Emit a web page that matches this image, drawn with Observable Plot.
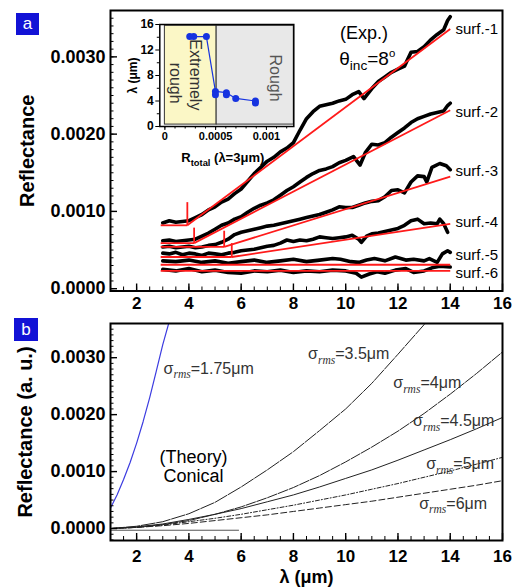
<!DOCTYPE html>
<html><head><meta charset="utf-8">
<script src="https://cdn.jsdelivr.net/npm/d3@7"></script>
<script src="https://cdn.jsdelivr.net/npm/@observablehq/plot@0.6"></script>
<style>
body{margin:0;background:#fff;}
#fig{position:relative;width:515px;height:587px;overflow:hidden;background:#fff;font-family:"Liberation Sans",Arial,sans-serif;}
#fig svg{position:absolute;overflow:visible;}
.tag{position:absolute;background:#1212d6;color:#fff;font-size:17px;text-align:center;}
</style></head><body><div id="fig"></div>
<script>
// ---------- Panel a: experimental reflectance (λ in µm, reflectance) ----------
const surf1 = [[3.0,.00085],[3.25,.00088],[3.5,.00086],[3.75,.00087],[4.0,.00088],[4.25,.00092],[4.5,.00096],[4.75,.00102],[5.0,.00106],[5.25,.00112],[5.5,.00116],[5.75,.00123],[6.0,.00129],[6.25,.00139],[6.5,.00149],[6.75,.00157],[7.0,.00165],[7.25,.00170],[7.5,.00177],[7.75,.00182],[8.0,.00189],[8.25,.00205],[8.5,.00220],[8.75,.00229],[9.0,.00236],[9.25,.00238],[9.5,.00240],[9.75,.00243],[10.0,.00245],[10.25,.00251],[10.5,.00255],[10.7,.00246],[11.0,.00259],[11.25,.00268],[11.5,.00274],[11.75,.00280],[12.0,.00284],[12.25,.00288],[12.5,.00306],[12.75,.00307],[13.0,.00313],[13.25,.00322],[13.5,.00329],[13.75,.00335],[13.9,.00347],[14.0,.00352]];
const surf2 = [[3.0,.00062],[3.25,.00063],[3.5,.00061],[3.75,.00062],[4.0,.00063],[4.25,.00064],[4.5,.00068],[4.75,.00072],[5.0,.00077],[5.25,.00082],[5.5,.00085],[5.75,.00090],[6.0,.00093],[6.25,.00099],[6.5,.00104],[6.75,.00108],[7.0,.00111],[7.25,.00115],[7.5,.00121],[7.75,.00127],[8.0,.00132],[8.25,.00138],[8.5,.00144],[8.75,.00149],[9.0,.00153],[9.25,.00155],[9.5,.00158],[9.75,.00163],[10.0,.00166],[10.3,.00171],[10.55,.00160],[10.75,.00176],[11.0,.00187],[11.25,.00186],[11.5,.00189],[11.75,.00196],[12.0,.00202],[12.25,.00208],[12.5,.00215],[12.75,.00220],[13.0,.00223],[13.25,.00226],[13.5,.00228],[13.75,.00230],[13.9,.00237],[14.0,.00240]];
const surf3 = [[3.0,.00054],[3.25,.00055],[3.5,.00053],[3.75,.00054],[4.0,.00055],[4.25,.00053],[4.5,.00054],[4.75,.00056],[5.0,.00057],[5.25,.00060],[5.5,.00064],[5.75,.00070],[6.0,.00073],[6.25,.00075],[6.5,.00077],[6.75,.00079],[7.0,.00081],[7.25,.00082],[7.5,.00084],[7.75,.00086],[8.0,.00088],[8.25,.00090],[8.5,.00092],[8.75,.00094],[9.0,.00096],[9.25,.00099],[9.5,.00102],[9.75,.00106],[10.0,.00105],[10.25,.00105],[10.5,.00108],[10.75,.00111],[11.0,.00113],[11.25,.00114],[11.5,.00119],[11.75,.00127],[12.0,.00128],[12.25,.00124],[12.5,.00138],[12.75,.00146],[13.0,.00145],[13.1,.00138],[13.3,.00157],[13.6,.00162],[13.85,.00159],[14.0,.00154]];
const surf4 = [[3.0,.00046],[3.25,.00045],[3.5,.00047],[3.75,.00044],[4.0,.00046],[4.25,.00045],[4.5,.00043],[4.75,.00046],[5.0,.00045],[5.25,.00044],[5.5,.00046],[5.75,.00047],[6.0,.00049],[6.25,.00050],[6.5,.00051],[6.75,.00053],[7.0,.00055],[7.25,.00056],[7.5,.00059],[7.75,.00063],[8.0,.00061],[8.25,.00063],[8.5,.00062],[8.75,.00064],[9.0,.00067],[9.25,.00066],[9.5,.00065],[9.75,.00066],[10.0,.00067],[10.25,.00069],[10.5,.00064],[10.6,.00060],[10.8,.00068],[11.0,.00071],[11.25,.00072],[11.5,.00074],[11.75,.00076],[12.0,.00078],[12.25,.00082],[12.5,.00088],[12.75,.00090],[13.0,.00084],[13.25,.00085],[13.5,.00084],[13.6,.00090],[13.75,.00084],[13.9,.00073]];
const surf5 = [[3.0,.00036],[3.5,.00035],[4.0,.00037],[4.5,.00034],[5.0,.00036],[5.5,.00033],[6.0,.00035],[6.5,.00037],[7.0,.00034],[7.5,.00036],[8.0,.00038],[8.5,.00035],[9.0,.00037],[9.5,.00039],[9.8,.00038],[10.2,.00035],[10.5,.00034],[10.8,.00037],[11.1,.00039],[11.5,.00036],[11.9,.00041],[12.3,.00037],[12.6,.00038],[13.0,.00036],[13.2,.00039],[13.5,.00034],[13.7,.00045],[13.9,.00049],[14.0,.00047]];
const surf6 = [[3.0,.00025],[3.5,.00023],[4.0,.00026],[4.5,.00022],[5.0,.00024],[5.5,.00021],[6.0,.00020],[6.5,.00023],[7.0,.00022],[7.5,.00024],[8.0,.00021],[8.5,.00023],[9.0,.00022],[9.5,.00024],[10.0,.00023],[10.4,.00020],[10.6,.00015],[10.9,.00019],[11.2,.00022],[11.5,.00020],[11.9,.00024],[12.3,.00026],[12.6,.00021],[13.0,.00023],[13.3,.00027],[13.6,.00029],[14.0,.00028]];
const surfNames = ["surf.-1","surf.-2","surf.-3","surf.-4","surf.-5","surf.-6"];

// red linear fits: flat part from fitStart to fitBreak, marker up to fitMark, rising to fitEnd at λ = 14
const fitStart = 2.92;
const fitStop = 14;
const fitBreak = [3.94, 4.2, 5.35, 5.64, 14, 14];
const fitBase  = [0.00082, 0.00059, 0.00054, 0.00041, 0.00031, 0.00023];
const fitMark  = [0.00112, 0.00079, 0.00075, 0.00059, null, null];
const fitEnd   = [0.00336, 0.00231, 0.00145, 0.00084, 0.00031, 0.00023];

// ---------- Inset: λ (µm) vs R_total (λ = 3 µm) ----------
const insetR   = [0.000245, 0.000284, 0.000409, 0.000498, 0.000606, 0.000698, 0.000892];
const insetLam = [14.1, 14.1, 14.1, 5.5, 5.3, 4.4, 4.0];
const insetR2   = [0.000498, 0.000606, 0.000892];   // overlapping second points
const insetLam2 = [5.0, 5.0, 3.7];
const regionName  = ["Extremely rough", "Rough"];
const regionStart = [0, 0.00051];
const regionEnd   = [0.00051, 0.00127];

// ---------- Panel b: theory (conical) ----------
const sig175 = [[1.0,0.00036],[1.25,0.00059],[1.5,0.00086],[1.75,0.00116],[2.0,0.00150],[2.25,0.00188],[2.5,0.00230],[2.75,0.00276],[3.0,0.00323],[3.3,0.00372]];
const sig35  = [[1,0],[2,0.00004],[3,0.00012],[4,0.00026],[5,0.00046],[6,0.00073],[7,0.00103],[8,0.00135],[9,0.00172],[10,0.0021],[11,0.00255],[12,0.00306],[13,0.00358],[13.3,0.00375]];
const sig40  = [[1,0],[2,0.00002],[3,0.00007],[4,0.00014],[5,0.00025],[6,0.00038],[7,0.00054],[8,0.00072],[9,0.00093],[10,0.00117],[11,0.00143],[12,0.00171],[13,0.00202],[14,0.00236],[15,0.00272],[16,0.0031]];
const sig45  = [[1,0],[2,0.00003],[3,0.00008],[4,0.00016],[5,0.00025],[6,0.00035],[7,0.00047],[8,0.00059],[9,0.00073],[10,0.00088],[11,0.00103],[12,0.0012],[13,0.00138],[14,0.00156],[15,0.00175],[16,0.00195]];
const sig50  = [[1,0],[2,0.00002],[3,0.00006],[4,0.00012],[5,0.00018],[6,0.00025],[7,0.00033],[8,0.00041],[9,0.0005],[10,0.00059],[11,0.00069],[12,0.00079],[13,0.0009],[14,0.00101],[15,0.00113],[16,0.00125]];
const sig60  = [[1,0],[2,0.00002],[3,0.00005],[4,0.00009],[5,0.00014],[6,0.00019],[7,0.00024],[8,0.0003],[9,0.00036],[10,0.00042],[11,0.00048],[12,0.00055],[13,0.00062],[14,0.00069],[15,0.00076],[16,0.00084]];
const baseSeg = [[1,-0.00003],[5.9,-0.00003]];
const sigNames = ["σ~{rms}=1.75μm","σ~{rms}=3.5μm","σ~{rms}=4μm","σ~{rms}=4.5μm","σ~{rms}=5μm","σ~{rms}=6μm"];

// tick values
const xMajor = [2,4,6,8,10,12,14,16];
const xMinor = d3.range(1, 16.01, 0.5);
const yMajor = [0, 0.001, 0.002, 0.003];
const yMinorA = d3.range(0, 0.00361, 0.0001);
const yMinorB = d3.range(-0.0002, 0.00361, 0.0001);

// ---------------------------------------------------------------------------
const FONT = '"Liberation Sans", Arial, sans-serif';
const fig = document.getElementById("fig");
const P = ([x, y]) => ({x, y});

function richText(svg) {
  d3.select(svg).selectAll("text").each(function () {
    const s = this.textContent;
    if (!/[_^~]\{/.test(s)) return;
    const fs = parseFloat(getComputedStyle(this).fontSize) || 14;
    const parts = []; const re = /([_^~])\{([^}]*)\}/g; let last = 0, m;
    while ((m = re.exec(s))) { if (m.index > last) parts.push({t: s.slice(last, m.index), k: ""}); parts.push({t: m[2], k: m[1]}); last = re.lastIndex; }
    if (last < s.length) parts.push({t: s.slice(last), k: ""});
    const sel = d3.select(this); sel.text(null);
    let cur = 0;
    for (const p of parts) {
      const off = p.k === "_" || p.k === "~" ? 0.3 * fs : p.k === "^" ? -0.42 * fs : 0;
      const ts = sel.append("tspan").text(p.t);
      if (off !== cur) ts.attr("dy", off - cur);
      cur = off;
      if (p.k) ts.attr("font-size", (p.k === "^" ? 0.6 : 0.72) * fs);
      if (p.k === "~") ts.attr("font-style", "italic").attr("font-family", '"Liberation Serif", serif');
    }
  });
}

function axesLR(yMinor, xPad) {
  return [
    Plot.axisY(yMinor, {tickSize: -3.5, fill: "none", label: null}),
    Plot.axisY(yMajor, {tickSize: -7, fill: "none", label: null, strokeWidth: 1.4}),
    Plot.axisY(yMajor, {tickSize: 0, tickPadding: 5, tickFormat: d3.format(".4f"), label: null, fontSize: 18, fontWeight: "bold"}),
    Plot.axisX(xMinor, {tickSize: -4, fill: "none", label: null}),
    Plot.axisX(xMajor, {tickSize: -7, fill: "none", label: null, strokeWidth: 1.4}),
    Plot.axisX(xMajor, {tickSize: 0, tickPadding: xPad, label: null, fontSize: 17, fontWeight: "bold"}),
    Plot.frame({stroke: "black", strokeWidth: 2})
  ];
}

// ---- Panel a
const surfs = [surf1, surf2, surf3, surf4, surf5, surf6];
const expRows = surfs.flatMap((s, i) => s.map(([x, y]) => ({x, y, s: surfNames[i]})));
const fitRows = [];
surfNames.forEach((n, i) => {
  fitRows.push({x1: fitStart, y1: fitBase[i], x2: fitBreak[i], y2: fitBase[i]});
  if (fitMark[i] != null) {
    fitRows.push({x1: fitBreak[i], y1: fitBase[i], x2: fitBreak[i], y2: fitMark[i]});
    fitRows.push({x1: fitBreak[i], y1: fitBase[i], x2: fitStop, y2: fitEnd[i]});
  }
});
const surfLabelPos = [0.00336, 0.00228, 0.00152, 0.00086, 0.00043, 0.00020];
const surfLabels = surfNames.map((t, i) => ({t, x: 14.2, y: surfLabelPos[i]}));

const pa = Plot.plot({
  width: 515, height: 315,
  marginLeft: 110, marginRight: 13, marginTop: 10, marginBottom: 24.5,
  x: {domain: [1, 16]},
  y: {domain: [-0.00003, 0.0036]},
  style: {fontFamily: FONT, color: "black", background: "transparent", overflow: "visible"},
  marks: [
    Plot.line(expRows, {x: "x", y: "y", z: "s", stroke: "black", strokeWidth: 3.6}),
    Plot.link(fitRows, {x1: "x1", y1: "y1", x2: "x2", y2: "y2", stroke: "#ff1a1a", strokeWidth: 1.8}),
    ...axesLR(yMinorA, 5.5),
    Plot.text(["Reflectance"], {text: d => d, frameAnchor: "left", textAnchor: "middle", lineAnchor: "middle", dx: -83, rotate: -90, fontSize: 20, fontWeight: "bold"}),
    Plot.text(surfLabels, {x: "x", y: "y", text: "t", textAnchor: "start", fontSize: 15}),
    Plot.text(["(Exp.)"], {text: d => d, x: 10.7, y: 0.0033, fontSize: 18}),
    Plot.text(["θ_{inc}=8^{o}"], {text: d => d, x: 9.75, y: 0.00298, textAnchor: "start", fontSize: 19})
  ]
});
pa.style.left = "0px"; pa.style.top = "0px";
fig.appendChild(pa); richText(pa);

// ---- Inset
const regions = regionName.map((n, i) => ({n, x1: regionStart[i], x2: regionEnd[i]}));
const insetPts = insetR.map((x, i) => ({x, y: insetLam[i]}));
const insetPts2 = insetR2.map((x, i) => ({x, y: insetLam2[i]}));
const BLUE = "#1633e0";
const pi = Plot.plot({
  width: 200, height: 150,
  marginLeft: 49.3, marginRight: 16.7, marginTop: 14, marginBottom: 34,
  x: {domain: [-0.00005, 0.00127]},
  y: {domain: [0, 16]},
  style: {fontFamily: FONT, color: "black", background: "transparent", overflow: "visible"},
  marks: [
    Plot.rect(regions, {x1: "x1", x2: "x2", y1: 0.3, y2: 15.8, fill: (d, i) => i === 0 ? "#fbf7c6" : "#e8e8e8", stroke: "#333", strokeWidth: 1}),
    Plot.text(["Extremely"], {text: d => d, x: 0.0003, y: 8.1, rotate: 90, fontSize: 16, fill: "#333"}),
    Plot.text(["rough"], {text: d => d, x: 0.000105, y: 6.8, rotate: 90, fontSize: 16, fill: "#333"}),
    Plot.text(["Rough"], {text: d => d, x: 0.00109, y: 7.6, rotate: 90, fontSize: 16, fill: "#555"}),
    Plot.line(insetPts, {x: "x", y: "y", stroke: BLUE, strokeWidth: 1.2}),
    Plot.dot(insetPts, {x: "x", y: "y", fill: BLUE, r: 3.5}),
    Plot.dot(insetPts2, {x: "x", y: "y", fill: BLUE, r: 3.5}),
    Plot.axisY([0, 4, 8, 12, 16], {tickSize: 4, tickPadding: 2, label: null, fontSize: 12, fontWeight: "bold"}),
    Plot.axisY([2, 6, 10, 14], {tickSize: 2.5, fill: "none", label: null}),
    Plot.axisX([0, 0.0005, 0.001], {tickSize: 4, tickPadding: 2, label: null, tickFormat: d => String(d), fontSize: 11, fontWeight: "bold"}),
    Plot.axisX(d3.range(0, 0.00121, 0.0001), {tickSize: 2.5, fill: "none", label: null}),
    Plot.frame({stroke: "black", strokeWidth: 1.5}),
    Plot.text(["λ (μm)"], {text: d => d, frameAnchor: "left", textAnchor: "middle", lineAnchor: "middle", dx: -27, rotate: -90, fontSize: 12, fontWeight: "bold"}),
    Plot.text(["R_{total} (λ=3μm)"], {text: d => d, frameAnchor: "bottom", textAnchor: "middle", lineAnchor: "middle", dy: 31, dx: -4, fontSize: 13, fontWeight: "bold"})
  ]
});
pi.style.left = "110px"; pi.style.top = "10px";
fig.appendChild(pi); richText(pi);

// ---- Panel b
const sigLabelPos = [[3.03, 0.00281], [8.56, 0.00307], [11.82, 0.00256], [12.58, 0.00189], [13.08, 0.00114], [12.81, 0.00044]];
const sigLabels = sigNames.map((t, i) => ({t, x: sigLabelPos[i][0], y: sigLabelPos[i][1]}));
const pb = Plot.plot({
  width: 515, height: 272,
  marginLeft: 110, marginRight: 13, marginTop: 8, marginBottom: 47,
  x: {domain: [1, 16]},
  y: {domain: [-0.00021, 0.0036]},
  style: {fontFamily: FONT, color: "black", background: "transparent", overflow: "visible"},
  marks: [
    Plot.line(baseSeg.map(P), {x: "x", y: "y", stroke: "#555", strokeWidth: 1}),
    Plot.line(sig175.map(P), {x: "x", y: "y", stroke: "#3b3be0", strokeWidth: 1.2, clip: true}),
    Plot.line(sig35.map(P), {x: "x", y: "y", stroke: "#222", strokeWidth: 1, strokeDasharray: "14,1.5", clip: true}),
    Plot.line(sig40.map(P), {x: "x", y: "y", stroke: "#222", strokeWidth: 1, strokeDasharray: "10,1.5", clip: true}),
    Plot.line(sig45.map(P), {x: "x", y: "y", stroke: "#222", strokeWidth: 1, clip: true}),
    Plot.line(sig50.map(P), {x: "x", y: "y", stroke: "#222", strokeWidth: 1, strokeDasharray: "4,2,1,2", clip: true}),
    Plot.line(sig60.map(P), {x: "x", y: "y", stroke: "#222", strokeWidth: 1, strokeDasharray: "6,3", clip: true}),
    ...axesLR(yMinorB, 9),
    Plot.text(["Reflectance (a. u.)"], {text: d => d, frameAnchor: "left", textAnchor: "middle", lineAnchor: "middle", dx: -85, rotate: -90, fontSize: 20, fontWeight: "bold"}),
    Plot.text(["λ (μm)"], {text: d => d, frameAnchor: "bottom", textAnchor: "middle", lineAnchor: "middle", dy: 37, fontSize: 18, fontWeight: "bold"}),
    Plot.text(sigLabels, {x: "x", y: "y", text: "t", textAnchor: "start", fontSize: 16, fill: "#333"}),
    Plot.text(["(Theory)"], {text: d => d, x: 4.18, y: 0.00125, fontSize: 18}),
    Plot.text(["Conical"], {text: d => d, x: 4.18, y: 0.00091, fontSize: 18})
  ]
});
pb.style.left = "0px"; pb.style.top = "315px";
fig.appendChild(pb); richText(pb);

// panel tags
[["a", 16, 13, 23, 22], ["b", 14, 318, 24, 23]].forEach(([t, l, tp, w, h]) => {
  const d = document.createElement("div");
  d.className = "tag"; d.textContent = t;
  Object.assign(d.style, {left: l + "px", top: tp + "px", width: w + "px", height: h + "px", lineHeight: h + "px"});
  fig.appendChild(d);
});
</script></body></html>
